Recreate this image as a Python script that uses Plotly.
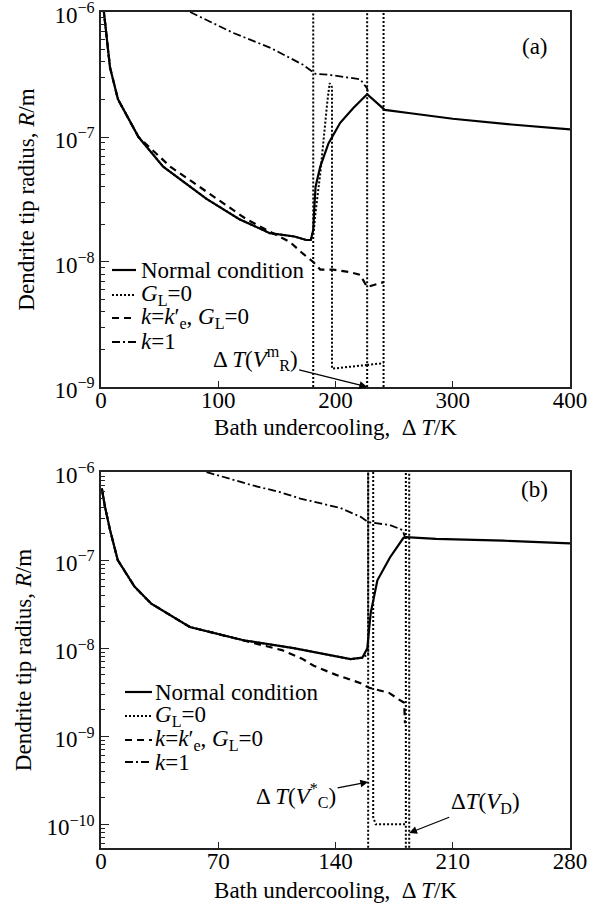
import plotly.graph_objects as go

# ---------------- data: panel (a) ----------------
Ta_normal = [2, 7.7, 14.5, 32, 53, 90, 118, 144, 165, 175, 179, 181, 182, 183, 187, 194, 204, 215, 227, 235, 242, 264, 300, 350, 400]
Ra_normal = [1.1e-6, 3.6e-7, 2.0e-7, 1.0e-7, 5.8e-8, 3.2e-8, 2.2e-8, 1.7e-8, 1.6e-8, 1.5e-8, 1.5e-8, 1.8e-8, 2.8e-8, 4.0e-8,
             5.8e-8, 8.9e-8, 1.3e-7, 1.7e-7, 2.2e-7, 1.9e-7, 1.65e-7, 1.55e-7, 1.4e-7, 1.26e-7, 1.15e-7]

Ta_gl0 = [2, 7.7, 14.5, 32, 53, 90, 118, 144, 165, 175, 179, 181, 181, None,
          181, 181, 183, 186, 187, 189, 191, 193, 195, 197, 197, 212, 227, 227, None,
          227, 227, None, 241, 241]
Ra_gl0 = [1.1e-6, 3.6e-7, 2.0e-7, 1.0e-7, 5.8e-8, 3.2e-8, 2.2e-8, 1.7e-8, 1.6e-8, 1.5e-8, 1.5e-8, 1.8e-8, 1.0e-6, None,
          1.0e-9, 1.6e-8, 2.5e-8, 4.0e-8, 5.1e-8, 7.9e-8, 1.3e-7, 1.9e-7, 2.7e-7, 2.5e-7, 1.4e-9, 1.45e-9, 1.5e-9, 1.0e-6, None,
          1.0e-9, 1.5e-9, None, 1.0e-9, 1.0e-6]
Ta_gl0_tail = [227, 241]
Ra_gl0_tail = [1.5e-9, 1.55e-9]

Ta_ke = [2, 7.7, 14.5, 32, 59, 99, 124, 144, 161, 172, 181, 187, 198, 212, 221, 227, 234, 241]
Ra_ke = [1.1e-6, 3.6e-7, 2.0e-7, 1.0e-7, 5.8e-8, 3.2e-8, 2.2e-8, 1.75e-8, 1.45e-8, 1.17e-8, 1.0e-8, 8.7e-9, 8.7e-9,
         8.3e-9, 7.9e-9, 6.3e-9, 6.6e-9, 6.9e-9]

Ta_k1 = [76, 113, 144, 172, 181, 183, 194, 212, 221, 227, 228]
Ra_k1 = [1.0e-6, 6.8e-7, 5.2e-7, 3.8e-7, 3.3e-7, 3.2e-7, 3.15e-7, 3.0e-7, 2.9e-7, 2.45e-7, 2.2e-7]

# ---------------- data: panel (b) ----------------
Tb_normal = [0.5, 2.4, 5.4, 10, 20, 30, 53, 85, 115, 135, 149, 156, 159, 160, 161, 165, 172.5, 180.5, 182, 200, 240, 280]
Rb_normal = [6.5e-7, 4.0e-7, 2.2e-7, 1.0e-7, 5.0e-8, 3.2e-8, 1.74e-8, 1.23e-8, 1.0e-8, 8.5e-9, 7.5e-9, 7.8e-9, 1.0e-8,
             1.6e-8, 2.5e-8, 5.9e-8, 1.07e-7, 1.78e-7, 1.82e-7, 1.74e-7, 1.66e-7, 1.55e-7]

Tb_gl0 = [0.5, 2.4, 5.4, 10, 20, 30, 53, 85, 115, 135, 149, 156, 159.5, 159.5, None,
          159.5, 159.5, None, 162.5, 162.5, 164, 182, 182, None,
          182, 182, None, 184, 184]
Rb_gl0 = [6.5e-7, 4.0e-7, 2.2e-7, 1.0e-7, 5.0e-8, 3.2e-8, 1.74e-8, 1.23e-8, 1.0e-8, 8.5e-9, 7.5e-9, 7.8e-9, 8.5e-9, 1.0e-6, None,
          5.4e-11, 1.0e-6, None, 1.0e-6, 1.2e-10, 1.0e-10, 1.0e-10, 1.0e-6, None,
          5.4e-11, 1.0e-10, None, 5.4e-11, 1.0e-6]

Tb_ke = [0.5, 2.4, 5.4, 10, 20, 30, 53, 85, 108, 120, 127, 140, 155, 160, 172, 178, 181, 181.5]
Rb_ke = [6.5e-7, 4.0e-7, 2.2e-7, 1.0e-7, 5.0e-8, 3.2e-8, 1.74e-8, 1.23e-8, 9.5e-9, 7.6e-9, 6.3e-9, 5.0e-9, 4.0e-9,
         3.55e-9, 3.1e-9, 2.6e-9, 2.4e-9, 1.4e-9]

Tb_k1 = [63, 90, 107, 119, 143, 155, 159.5, 172.5, 180, 181.5]
Rb_k1 = [1.0e-6, 7.1e-7, 5.9e-7, 5.0e-7, 3.9e-7, 3.1e-7, 2.7e-7, 2.5e-7, 2.2e-7, 1.82e-7]

# tick labels
xa_ticks = [0, 100, 200, 300, 400]
xb_ticks = [0, 70, 140, 210, 280]
ya_ticks = [1e-9, 1e-8, 1e-7, 1e-6]
ya_text = ["10<sup>\u22129</sup>", "10<sup>\u22128</sup>", "10<sup>\u22127</sup>", "10<sup>\u22126</sup>"]
yb_ticks = [1e-10, 1e-9, 1e-8, 1e-7, 1e-6]
yb_text = ["10<sup>\u221210</sup>", "10<sup>\u22129</sup>", "10<sup>\u22128</sup>", "10<sup>\u22127</sup>", "10<sup>\u22126</sup>"]

legend_names = ["Normal condition", "<i>G</i><sub>L</sub>=0",
                "<i>k</i>=<i>k</i>\u2032<sub>e</sub>, <i>G</i><sub>L</sub>=0", "<i>k</i>=1"]

# ---------------- figure ----------------
W, H = 597, 905
FONT = "Liberation Serif"
FS = 23

def px(x):
    return x / W

def py(y):
    return 1 - y / H

SOLID = dict(color="black", width=2.2)
DOT = dict(color="black", width=2.0, dash="2px,2px")
DASH = dict(color="black", width=2.2, dash="7px,5px")
DASHDOT = dict(color="black", width=1.8, dash="8px,3px,2px,3px")
styles = [SOLID, DOT, DASH, DASHDOT]

fig = go.Figure()

def add(x, y, line, xa, ya):
    fig.add_trace(go.Scatter(x=x, y=y, mode="lines", line=line, xaxis=xa, yaxis=ya,
                             showlegend=False, hoverinfo="skip", connectgaps=False))

add(Ta_gl0, Ra_gl0, DOT, "x", "y")
add(Ta_gl0_tail, Ra_gl0_tail, DOT, "x", "y")
add(Ta_ke, Ra_ke, DASH, "x", "y")
add(Ta_k1, Ra_k1, DASHDOT, "x", "y")
add(Ta_normal, Ra_normal, SOLID, "x", "y")

add(Tb_gl0, Rb_gl0, DOT, "x2", "y2")
add(Tb_ke, Rb_ke, DASH, "x2", "y2")
add(Tb_k1, Rb_k1, DASHDOT, "x2", "y2")
add(Tb_normal, Rb_normal, SOLID, "x2", "y2")

xdom = [px(101), px(570)]
axis_common = dict(showline=True, linecolor="#222", linewidth=1.6, mirror=True, showgrid=False,
                   zeroline=False, ticks="inside", tickcolor="#222", tickwidth=1.4,
                   ticklabeloverflow="allow",
                   tickfont=dict(family=FONT, size=FS, color="black"), automargin=False)

def minor_vals(lo, hi):
    vals = []
    for e in range(lo, hi):
        for m in range(2, 10):
            vals.append(m * 10.0 ** e)
    return vals

xtitle = "Bath undercooling,  \u0394 <i>T</i>/K"
ytitle = "Dendrite tip radius, <i>R</i>/m"

fig.update_layout(
    width=W, height=H,
    margin=dict(l=0, r=0, t=0, b=0),
    paper_bgcolor="white", plot_bgcolor="white",
    template="none",
    showlegend=False,
    font=dict(family=FONT, size=FS, color="black"),
    xaxis=dict(domain=xdom, range=[0, 400], tickvals=xa_ticks, ticklen=6, anchor="y", ticklabelstandoff=-8,
               title=dict(text=xtitle, font=dict(family=FONT, size=FS), standoff=6), **axis_common),
    yaxis=dict(domain=[py(387), py(12)], type="log", range=[-9.0005, -5.9995], tickvals=ya_ticks, ticktext=ya_text,
               ticklen=8, anchor="x", ticklabelshift=3,
               minor=dict(ticks="inside", ticklen=4, tickvals=minor_vals(-9, -6), tickcolor="#222", showgrid=False),
               title=dict(text=ytitle, font=dict(family=FONT, size=FS), standoff=13), **axis_common),
    xaxis2=dict(domain=xdom, range=[0, 280], tickvals=xb_ticks, ticklen=6, anchor="y2", ticklabelstandoff=-8,
                title=dict(text=xtitle, font=dict(family=FONT, size=FS), standoff=8), **axis_common),
    yaxis2=dict(domain=[py(848), py(472)], type="log", range=[-10.27, -5.9995], tickvals=yb_ticks, ticktext=yb_text,
                ticklen=8, anchor="x2", ticklabelshift=3,
                minor=dict(ticks="inside", ticklen=4, tickvals=minor_vals(-11, -6), tickcolor="#222", showgrid=False),
                title=dict(text=ytitle, font=dict(family=FONT, size=FS), standoff=8), **axis_common),
)

shapes = []
annotations = []

def legend_block(x0, x1, xt, rows):
    for (yy, st, name) in zip(rows, styles, legend_names):
        shapes.append(dict(type="line", xref="paper", yref="paper", x0=px(x0), x1=px(x1),
                           y0=py(yy), y1=py(yy), line=st))
        annotations.append(dict(text=name, xref="paper", yref="paper", x=px(xt), y=py(yy),
                                xanchor="left", yanchor="middle", showarrow=False,
                                font=dict(family=FONT, size=FS, color="black")))

legend_block(112, 136, 139, [270, 295, 318, 342])
legend_block(125, 152, 153, [692, 716, 740, 762])

# panel labels
annotations.append(dict(text="(a)", xref="paper", yref="paper", x=px(550), y=py(32), showarrow=False,
                        font=dict(family=FONT, size=FS)))
annotations.append(dict(text="(b)", xref="paper", yref="paper", x=px(550), y=py(490), showarrow=False,
                        font=dict(family=FONT, size=FS)))

# arrow annotations
arrow_common = dict(showarrow=True, arrowhead=2, arrowsize=1.3, arrowwidth=1.2, arrowcolor="black",
                    axref="pixel", ayref="pixel", font=dict(family=FONT, size=FS, color="black"))
annotations.append(dict(text="\u0394 <i>T</i>(<i>V</i><sup>m</sup><sub>R</sub>)", xref="x", yref="y",
                        x=227, y=-9, ax=-112, ay=-28, **arrow_common))
annotations.append(dict(text="\u0394 <i>T</i>(<i>V</i><sup>*</sup><sub>C</sub>)", xref="x2", yref="y2",
                        x=159.5, y=-9.52, ax=-72, ay=14, **arrow_common))
annotations.append(dict(text="\u0394<i>T</i>(<i>V</i><sub>D</sub>)", xref="x2", yref="y2",
                        x=184, y=-10.1, ax=76, ay=-30, **arrow_common))

fig.update_layout(shapes=shapes, annotations=annotations)

fig.write_html("out.html", config={"displayModeBar": False},
               post_script="document.body.style.margin='0';document.body.style.padding='0';")
